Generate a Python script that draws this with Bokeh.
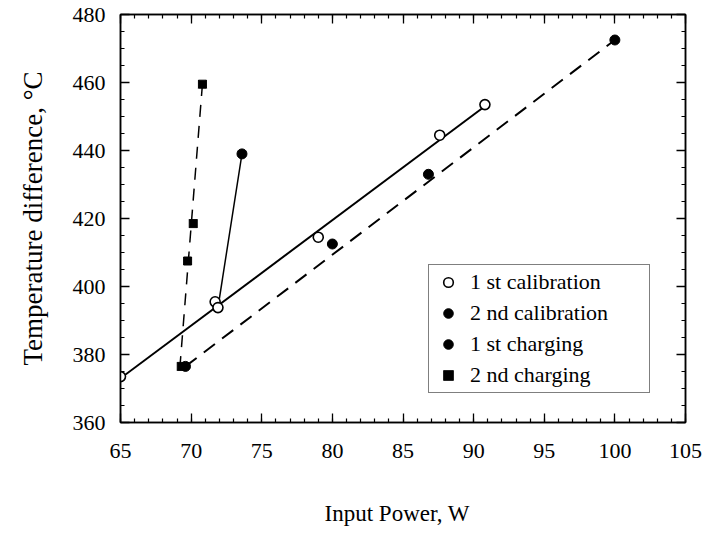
from bokeh.plotting import figure
from bokeh.models import (Range1d, LinearAxis, SingleIntervalTicker, Legend, LegendItem,
                          CustomLabelingPolicy)
from bokeh.embed import file_html
from bokeh.resources import INLINE

# --- data ---
cal1_x = [65.0, 71.7, 79.0, 87.6, 90.8]
cal1_y = [373.5, 395.5, 414.5, 444.5, 453.5]
cal1_fit_x = [65.0, 90.8]
cal1_fit_y = [373.0, 453.0]

cal2_x = [69.6, 80.0, 86.8, 100.0]
cal2_y = [376.5, 412.5, 433.0, 472.5]
cal2_fit_x = [69.6, 100.0]
cal2_fit_y = [376.5, 472.5]

chg1_x = [71.9, 73.6]
chg1_y = [393.8, 439.0]

chg2_x = [69.3, 69.75, 70.15, 70.8]
chg2_y = [376.5, 407.5, 418.5, 459.5]
chg2_fit_x = [69.2, 70.8]
chg2_fit_y = [376.0, 459.5]

x_ticks = [65, 70, 75, 80, 85, 90, 95, 100, 105]
y_ticks = [360, 380, 400, 420, 440, 460, 480]

FONT = "Liberation Serif"

p = figure(width=707, height=532, output_backend="svg", toolbar_location=None,
           x_range=Range1d(65, 105), y_range=Range1d(360, 480),
           min_border_left=120, min_border_right=22, min_border_top=14, min_border_bottom=110)
p.grid.visible = False
p.background_fill_color = "white"
p.border_fill_color = "white"
p.outline_line_color = "black"
p.outline_line_width = 1.5

bottom = p.below[0]
left = p.left[0]

xt = SingleIntervalTicker(interval=5, num_minor_ticks=5)
yt = SingleIntervalTicker(interval=20, num_minor_ticks=4)
bottom.ticker = xt
left.ticker = yt

top = LinearAxis(ticker=xt)
right = LinearAxis(ticker=yt)
p.add_layout(top, "above")
p.add_layout(right, "right")

for ax in [bottom, left, top, right]:
    ax.axis_line_color = "black"
    ax.axis_line_width = 1.5
    ax.major_tick_in = 9
    ax.major_tick_out = 0
    ax.minor_tick_in = 4
    ax.minor_tick_out = 0
    ax.major_tick_line_color = "black"
    ax.minor_tick_line_color = "black"
    ax.major_tick_line_width = 1.3
    ax.minor_tick_line_width = 1.2
    ax.major_label_text_font = FONT
    ax.major_label_text_font_size = "22px"
    ax.major_label_text_color = "black"
    ax.axis_label_text_font = FONT
    ax.axis_label_text_font_style = "normal"
    ax.axis_label_text_color = "black"

# top/right axes: ticks only, labels hidden by the labeling policy
for ax in [top, right]:
    ax.major_label_policy = CustomLabelingPolicy(code="return false")
    ax.major_label_standoff = 0
    ax.major_label_text_font_size = "6px"

bottom.axis_label = "Input  Power,  W"
bottom.axis_label_text_font_size = "23px"
bottom.major_label_standoff = 21
bottom.axis_label_standoff = 40

left.axis_label = "Temperature difference, °C"
left.axis_label_text_font_size = "27px"
left.major_label_standoff = 15
left.axis_label_standoff = 22

# lines
p.line(cal1_fit_x, cal1_fit_y, line_color="black", line_width=2)
p.line(cal2_fit_x, cal2_fit_y, line_color="black", line_width=2, line_dash="14 9")
p.line(chg1_x, chg1_y, line_color="black", line_width=1.5)
p.line(chg2_fit_x, chg2_fit_y, line_color="black", line_width=1.5, line_dash="12 9")

# markers
r1 = p.scatter(cal1_x, cal1_y, marker="circle", size=10, fill_color="white",
               line_color="black", line_width=1.6)
r2 = p.scatter(cal2_x, cal2_y, marker="circle", size=10, fill_color="black", line_color="black")
p.scatter(chg1_x[:1], chg1_y[:1], marker="circle", size=10, fill_color="white",
          line_color="black", line_width=1.6)
r3 = p.scatter(chg1_x[1:], chg1_y[1:], marker="circle", size=10, fill_color="black", line_color="black")
r4 = p.scatter(chg2_x, chg2_y, marker="square_x", size=8, fill_color="black", line_color="black")

items = [
    LegendItem(label="1 st calibration", renderers=[r1]),
    LegendItem(label="2 nd calibration", renderers=[r2]),
    LegendItem(label="1 st charging", renderers=[r3]),
    LegendItem(label="2 nd charging", renderers=[r4]),
]
legend = Legend(items=items, location=(308, 29))
legend.label_text_font = FONT
legend.label_text_font_size = "22px"
legend.label_text_color = "black"
legend.label_height = 24
legend.label_width = 175
legend.glyph_width = 30
legend.glyph_height = 24
legend.label_standoff = 7
legend.spacing = 5
legend.padding = 4
legend.margin = 0
legend.border_line_color = "black"
legend.border_line_width = 1.5
legend.background_fill_color = "white"
legend.background_fill_alpha = 1
p.add_layout(legend, "center")

open("out.html", "w").write(file_html(p, INLINE))
